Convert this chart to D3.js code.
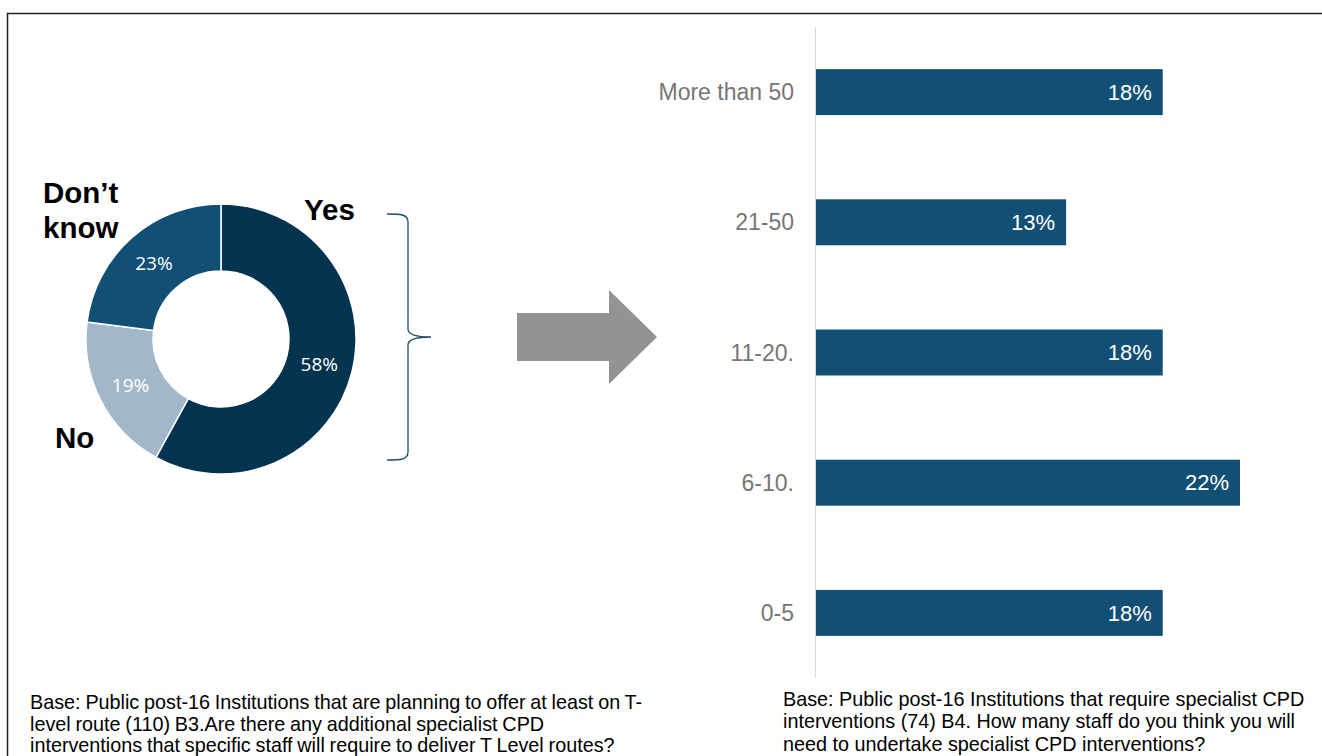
<!DOCTYPE html>
<html>
<head>
<meta charset="utf-8">
<script src="https://cdn.jsdelivr.net/npm/d3@7"></script>
<style>
  html, body { margin: 0; padding: 0; background: #fff; }
  svg { display: block; }
</style>
</head>
<body>
<svg id="chart" width="1322" height="756"></svg>
<script>
// Donut: B3 answers
const donutCategories = ["Yes", "No", "Don\u2019t know"];
const donutValues = [58, 19, 23];
const donutColors = ["#03344f", "#a2b8c8", "#124f74"];

// Bars: B4 number of staff
const barCategories = ["More than 50", "21-50", "11-20.", "6-10.", "0-5"];
const barValues = [0.18, 0.13, 0.18, 0.22, 0.18];
const barLabels = ["18%", "13%", "18%", "22%", "18%"];

const leftNote = [
  "Base: Public post-16 Institutions that are planning to offer at least on T-",
  "level route (110) B3.Are there any additional specialist CPD",
  "interventions that specific staff will require to deliver T Level routes?"
];
const rightNote = [
  "Base: Public post-16 Institutions that require specialist CPD",
  "interventions (74) B4. How many staff do you think you will",
  "need to undertake specialist CPD interventions?"
];

const svg = d3.select("#chart");

// slide frame
svg.append("path")
  .attr("d", "M7.5,760 L7.5,13.5 L1330,13.5")
  .attr("fill", "none").attr("stroke", "#222").attr("stroke-width", 1.5);

// ---- donut ----
const cx = 221, cy = 339;
const pie = d3.pie().sort(null).value(d => d)(donutValues);
const arc = d3.arc().innerRadius(68).outerRadius(135);
const g = svg.append("g").attr("transform", `translate(${cx},${cy})`);
g.selectAll("path.slice").data(pie).join("path")
  .attr("class", "slice")
  .attr("d", arc)
  .attr("fill", (d, i) => donutColors[i])
  .attr("stroke", "#fff").attr("stroke-width", 1.5);
g.selectAll("text.pct").data(pie).join("text")
  .attr("class", "pct")
  .attr("transform", d => `translate(${arc.centroid(d)})`)
  .attr("text-anchor", "middle").attr("dy", "0.36em")
  .attr("font-family", "'Open Sans', sans-serif")
  .attr("font-size", 19)
  .attr("fill", "#fff")
  .text(d => d.data + "%");

// category names around the donut
const catStyle = s => s.attr("font-family", "'Liberation Sans', Arial, sans-serif")
  .attr("font-weight", "bold").attr("font-size", 29.5).attr("fill", "#000");
svg.append("text").attr("x", 304).attr("y", 220).text(donutCategories[0]).call(catStyle);
svg.append("text").attr("x", 55).attr("y", 448).text(donutCategories[1]).call(catStyle);
const dk = svg.append("text").call(catStyle);
dk.append("tspan").attr("x", 43).attr("y", 203).text("Don\u2019t");
dk.append("tspan").attr("x", 43).attr("y", 238).text("know");

// curly brace
svg.append("path")
  .attr("d", "M387,214 C400,214 408,214 408,222 L408,329 C408,335 418,337 431,337 C418,337 408,339 408,345 L408,452 C408,460 400,460 387,460")
  .attr("fill", "none").attr("stroke", "#1d4b6b").attr("stroke-width", 1.3);

// arrow
svg.append("path")
  .attr("d", "M517,313 L609,313 L609,290 L657,337 L609,384 L609,361 L517,361 Z")
  .attr("fill", "#939393");

// ---- bars ----
const y = d3.scaleBand().domain(barCategories).range([27, 678])
  .paddingInner(0.647).paddingOuter(0.3235);
const x = d3.scaleLinear().domain([0, 0.22]).range([815, 1240]);

svg.append("line")
  .attr("x1", 815.5).attr("x2", 815.5).attr("y1", 27).attr("y2", 678)
  .attr("stroke", "#d9d9d9").attr("stroke-width", 1);

svg.selectAll("rect.bar").data(barValues).join("rect")
  .attr("class", "bar")
  .attr("x", x(0) + 1)
  .attr("y", (d, i) => y(barCategories[i]))
  .attr("width", d => x(d) - x(0) - 1)
  .attr("height", y.bandwidth())
  .attr("fill", "#124f74");

svg.selectAll("text.val").data(barValues).join("text")
  .attr("class", "val")
  .attr("x", d => x(d) - 11)
  .attr("y", (d, i) => y(barCategories[i]) + y.bandwidth() / 2)
  .attr("dy", "0.35em").attr("text-anchor", "end")
  .attr("font-family", "'Liberation Sans', Arial, sans-serif")
  .attr("font-size", 22).attr("fill", "#fff")
  .text((d, i) => barLabels[i]);

svg.selectAll("text.cat").data(barCategories).join("text")
  .attr("class", "cat")
  .attr("x", 794)
  .attr("y", d => y(d) + y.bandwidth() / 2)
  .attr("dy", "0.35em").attr("text-anchor", "end")
  .attr("font-family", "'Liberation Sans', Arial, sans-serif")
  .attr("font-size", 23).attr("fill", "#767676")
  .text(d => d);

// ---- base notes ----
const noteStyle = s => s.attr("font-family", "'Liberation Sans', Arial, sans-serif")
  .attr("font-size", 19.8).attr("fill", "#000");
svg.append("g").selectAll("text").data(leftNote).join("text")
  .attr("x", 30).attr("y", (d, i) => 709 + i * 21.5)
  .attr("word-spacing", -0.7)
  .call(noteStyle).text(d => d);
svg.append("g").selectAll("text").data(rightNote).join("text")
  .attr("x", 783).attr("y", (d, i) => 705.5 + i * 22.5)
  .call(noteStyle).text(d => d);
</script>
</body>
</html>
